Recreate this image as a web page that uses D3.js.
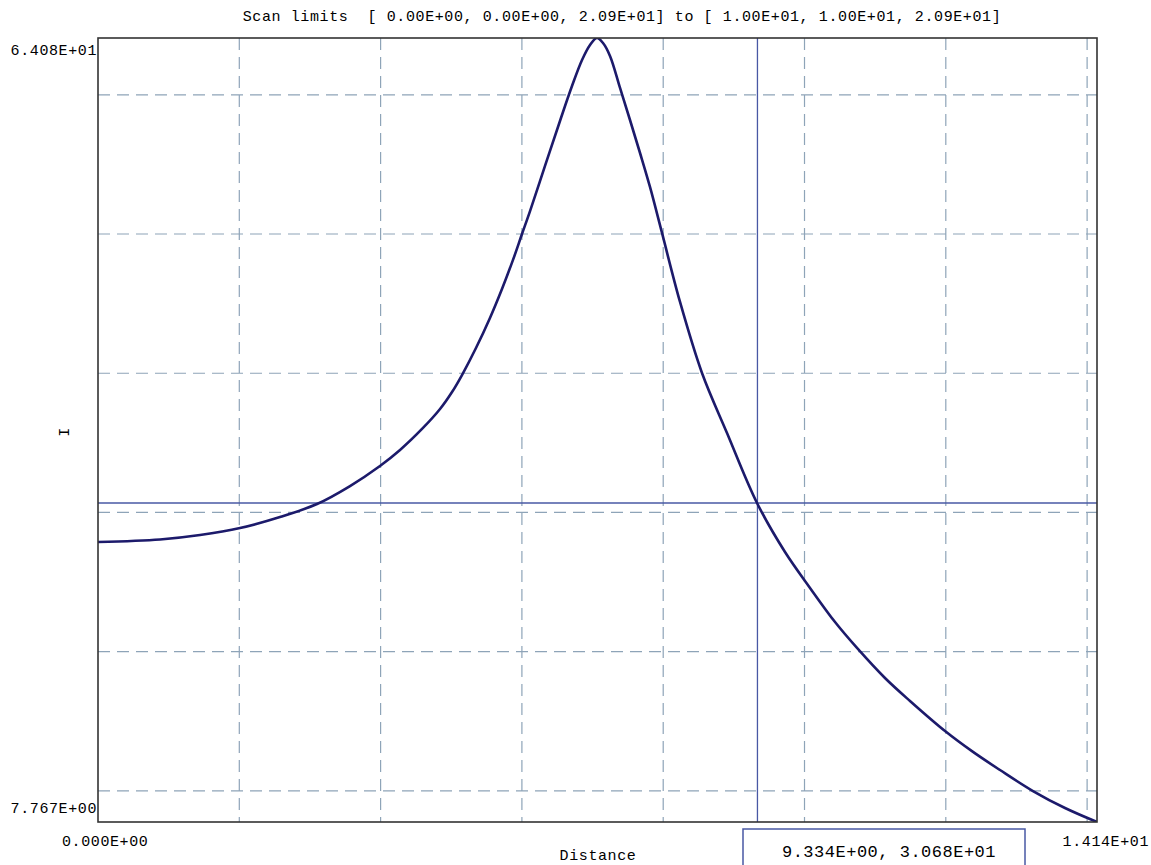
<!DOCTYPE html>
<html>
<head>
<meta charset="utf-8">
<script src="https://cdn.jsdelivr.net/npm/d3@7"></script>
<style>
  body { margin: 0; background: #fff; }
  text { font-family: "Liberation Mono", "Courier New", monospace; font-size: 15px; letter-spacing: 0.6px; fill: #000; white-space: pre; }
  .readout { font-size: 17px; letter-spacing: 0.5px; }
</style>
</head>
<body>
<svg id="chart" width="1151" height="865"></svg>
<script>
// scan along the diagonal
const distance = [0, 0.878, 1.444, 2.010, 2.576, 3.100, 3.567, 3.991, 4.275, 4.600, 4.841, 5.011, 5.152, 5.350, 5.548, 5.718, 5.874,
  6.001, 6.115, 6.327, 6.539, 6.709, 6.851, 6.964, 7.063,
  7.148, 7.247, 7.389, 7.530, 7.672, 7.813, 7.983, 8.238, 8.549, 8.903, 9.328, 9.724, 10.078, 10.432, 10.743,
  11.139, 11.493, 11.989, 12.385, 12.767, 13.234, 13.687, 14.14]
const field = [27.88, 28.06, 28.38, 28.88, 29.67, 30.61, 31.90, 33.34, 34.49, 36.07, 37.43, 38.65, 39.87, 41.81, 43.97, 46.05, 48.14,
  50.00, 51.65, 54.89, 58.12, 60.63, 62.50, 63.58, 64.08,
  63.72, 62.79, 60.49, 58.19, 55.82, 53.38, 50.08, 45.12, 40.02, 35.71, 30.68, 27.16, 24.58, 22.13, 20.27,
  18.11, 16.46, 14.30, 12.80, 11.50, 9.99, 8.77, 7.767]

const xGrid = [2, 4, 6, 8, 10, 12, 14]
const yGrid = [10, 20, 30, 40, 50, 60]
const xLimits = [0, 14.14]
const yLimits = [7.767, 64.08]
const xLabels = ["0.000E+00", "1.414E+01"]
const yLabels = ["7.767E+00", "6.408E+01"]
const cursor = [9.334, 30.68]
const title = "Scan limits  [ 0.00E+00, 0.00E+00, 2.09E+01] to [ 1.00E+01, 1.00E+01, 2.09E+01]"

const pL = 98, pR = 1097, pT = 38, pB = 822

const svg = d3.select("#chart")
const x = d3.scaleLinear().domain(xLimits).range([pL, pR])
const y = d3.scaleLinear().domain(yLimits).range([pB, pT])

svg.append("clipPath").attr("id", "plotclip")
  .append("rect").attr("x", pL).attr("y", pT).attr("width", pR - pL).attr("height", pB - pT)

//dashed grid
svg.append("g").selectAll("line").data(xGrid).enter().append("line")
  .attr("x1", d => x(d)).attr("x2", d => x(d)).attr("y1", pT).attr("y2", pB)
  .attr("stroke", "#8ea4b8").attr("stroke-width", 1.2).attr("stroke-dasharray", "12,7")
svg.append("g").selectAll("line").data(yGrid).enter().append("line")
  .attr("x1", pL).attr("x2", pR).attr("y1", d => y(d)).attr("y2", d => y(d))
  .attr("stroke", "#8ea4b8").attr("stroke-width", 1.2).attr("stroke-dasharray", "12,7")

//cursor crosshair
svg.append("line").attr("x1", x(cursor[0])).attr("x2", x(cursor[0])).attr("y1", pT).attr("y2", pB)
  .attr("stroke", "#4858a4").attr("stroke-width", 1.3)
svg.append("line").attr("x1", pL).attr("x2", pR).attr("y1", y(cursor[1])).attr("y2", y(cursor[1]))
  .attr("stroke", "#4858a4").attr("stroke-width", 1.3)

const line = d3.line().x((d, i) => x(distance[i])).y(d => y(d)).curve(d3.curveCatmullRom.alpha(0.5))
svg.append("path").datum(field).attr("d", line).attr("clip-path", "url(#plotclip)")
  .attr("fill", "none").attr("stroke", "#1c1a6b").attr("stroke-width", 2.6)

svg.append("rect").attr("x", pL).attr("y", pT).attr("width", pR - pL).attr("height", pB - pT)
  .attr("fill", "none").attr("stroke", "#333").attr("stroke-width", 1.6)

//labels
svg.append("text").attr("x", 622).attr("y", 21).attr("text-anchor", "middle").text(title)
svg.append("text").attr("x", 97).attr("y", 55).attr("text-anchor", "end").text(yLabels[1])
svg.append("text").attr("x", 97).attr("y", 813).attr("text-anchor", "end").text(yLabels[0])
svg.append("text").attr("x", 62).attr("y", 846).text(xLabels[0])
svg.append("text").attr("x", 1149).attr("y", 846).attr("text-anchor", "end").text(xLabels[1])
svg.append("text").attr("x", 598).attr("y", 860).attr("text-anchor", "middle").text("Distance")
svg.append("text").attr("transform", "translate(69,432) rotate(-90)").attr("text-anchor", "middle").text("I")

svg.append("rect").attr("x", 743).attr("y", 829).attr("width", 282).attr("height", 50)
  .attr("fill", "#fff").attr("stroke", "#4858a4").attr("stroke-width", 1.5)
svg.append("text").attr("class", "readout").attr("x", 889).attr("y", 857).attr("text-anchor", "middle")
  .text(cursor[0].toExponential(3).replace("e+", "E+0") + ", " + cursor[1].toExponential(3).replace("e+", "E+0"))
</script>
</body>
</html>
